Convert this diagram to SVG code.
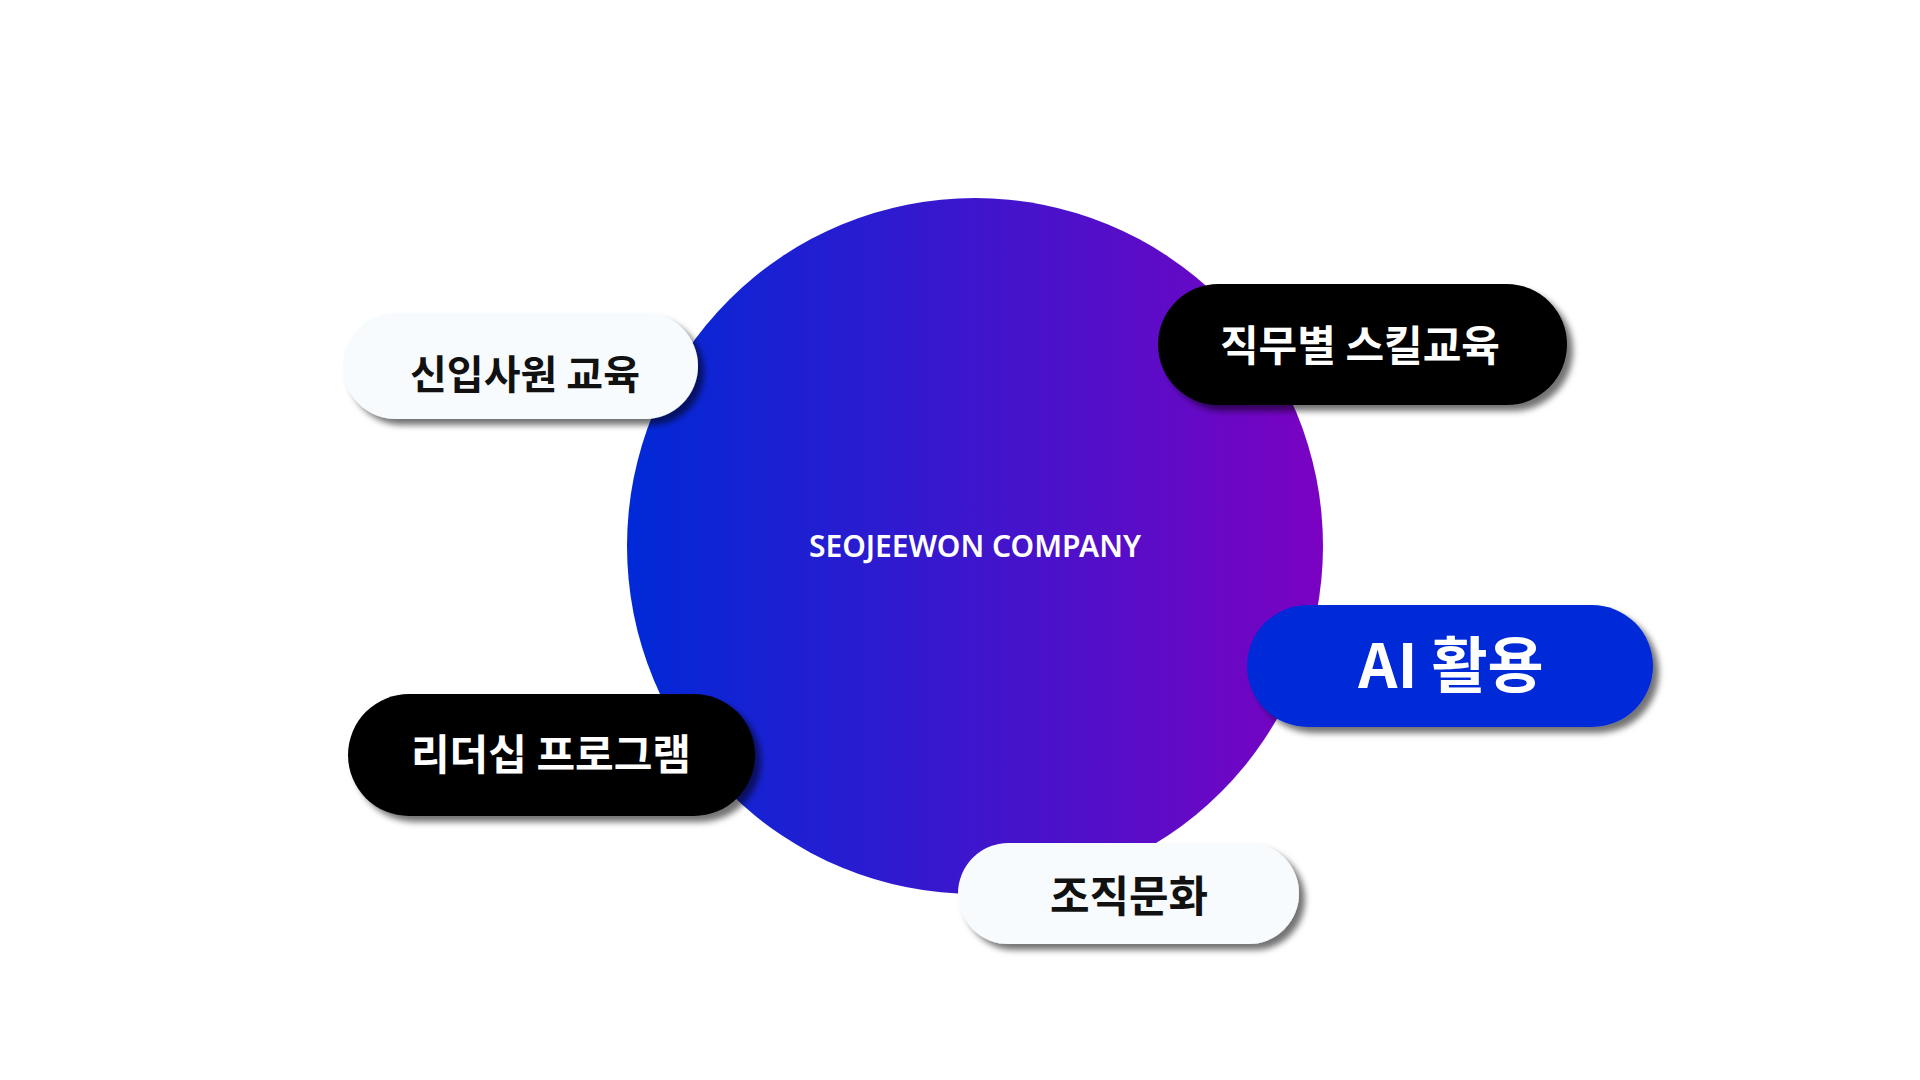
<svg xmlns="http://www.w3.org/2000/svg" width="1920" height="1080" viewBox="0 0 1920 1080">
  <style>
    .lbl { font-family: "Noto Sans CJK KR", "Noto Sans", sans-serif; font-weight: 700; text-anchor: middle; }
    .dark { fill: #111111; }
    .light { fill: #ffffff; }
    .center { font-family: "Noto Sans", "Open Sans", sans-serif; font-weight: 600; font-size: 30px; fill: #ffffff; text-anchor: middle; }
  </style>
  <defs>
    <linearGradient id="circGrad" x1="0" y1="0" x2="1" y2="0">
      <stop offset="0" stop-color="#0029d7"/>
      <stop offset="1" stop-color="#7b02c2"/>
    </linearGradient>
    <filter id="shadow" x="-20%" y="-30%" width="140%" height="170%">
      <feDropShadow dx="6" dy="6" stdDeviation="3" flood-color="#000000" flood-opacity="0.55"/>
    </filter>
  </defs>
  <rect width="1920" height="1080" fill="#ffffff"/>

  <g id="center">
    <circle cx="975" cy="546" r="348" fill="url(#circGrad)"/>
    <text class="center" x="975" y="557">SEOJEEWON COMPANY</text>
  </g>

  <g id="connectors"></g>

  <g id="node-newhire">
    <rect x="343" y="313" width="355" height="106" rx="53" fill="#f7fbfe" filter="url(#shadow)"/>
    <text class="lbl dark" x="525" y="389" font-size="40">신입사원 교육</text>
  </g>

  <g id="node-skill">
    <rect x="1158" y="284" width="409" height="121" rx="60.5" fill="#000000" filter="url(#shadow)"/>
    <text class="lbl light" x="1360" y="361" font-size="42">직무별 스킬교육</text>
  </g>

  <g id="node-ai">
    <rect x="1247" y="605" width="406" height="122" rx="61" fill="#0029d7" filter="url(#shadow)"/>
    <text class="lbl light" x="1451" y="688" font-size="61">AI 활용</text>
  </g>

  <g id="node-leadership">
    <rect x="348" y="694" width="407" height="122" rx="61" fill="#000000" filter="url(#shadow)"/>
    <text class="lbl light" x="551" y="770" font-size="42">리더십 프로그램</text>
  </g>

  <g id="node-culture">
    <rect x="958" y="843" width="341" height="101" rx="50.5" fill="#f7fbfe" filter="url(#shadow)"/>
    <text class="lbl dark" x="1129" y="912" font-size="43">조직문화</text>
  </g>
</svg>
